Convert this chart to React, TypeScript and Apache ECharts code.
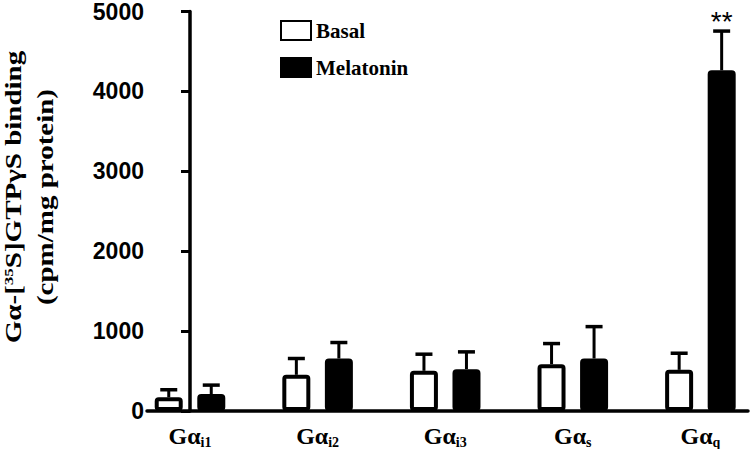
import React, { useEffect, useRef } from "react";
import * as echarts from "echarts";

const categories = ["i1", "i2", "i3", "s", "q"];
const basalMean = [171, 453, 503, 586, 515];
const basalSem = [95, 204, 208, 258, 208];
const melatoninMean = [212, 657, 524, 657, 4264];
const melatoninSem = [112, 200, 216, 399, 491];
const melatoninMarks = ["", "", "", "", "**"];
const yTicks = [0, 1000, 2000, 3000, 4000, 5000];
const yTitle = ["Gα-[{sup|35}S]GTPγS binding", "(cpm/mg protein)"];

const SERIF = "'Liberation Serif', 'Times New Roman', serif";
const SANS = "'Liberation Sans', Arial, sans-serif";
const BAR_OFFSET = 21.25;

function errorSeries(name: string, means: number[], sems: number[], marks: string[], offset: number) {
  return {
    type: "custom",
    name,
    z: 1,
    silent: true,
    data: means.map((m, i) => [i, m, sems[i]]),
    renderItem: (params: any, api: any) => {
      const i = api.value(0);
      const m = api.value(1);
      const e = api.value(2);
      const base = api.coord([i, m]);
      const top = api.coord([i, m + e]);
      const x = base[0] + offset;
      const children: any[] = [
        { type: "line", shape: { x1: x, y1: base[1], x2: x, y2: top[1] }, style: { stroke: "#000", lineWidth: 3 } },
        { type: "line", shape: { x1: x - 8.5, y1: top[1], x2: x + 8.5, y2: top[1] }, style: { stroke: "#000", lineWidth: 3.5 } },
      ];
      const mark = marks[params.dataIndex];
      if (mark) {
        children.push({
          type: "text",
          style: { text: mark, x, y: top[1] + 4, align: "center", verticalAlign: "bottom", fill: "#000", font: `28px ${SANS}` },
        });
      }
      return { type: "group", children };
    },
  };
}

export default function App() {
  const ref = useRef<HTMLDivElement>(null);
  useEffect(() => {
    const chart = echarts.init(ref.current!, null, { renderer: "svg" });
    const titleRich = {
      sup: { fontFamily: SERIF, fontWeight: "bold", fontSize: 17, verticalAlign: "top", padding: [0, 0, 15, 0], fill: "#000" },
    };
    chart.setOption({
      animation: false,
      backgroundColor: "#fff",
      grid: { left: 147, right: 2, top: 11, bottom: 37 },
      graphic: yTitle.map((t, k) => ({
        type: "text",
        x: k === 0 ? 14 : 46,
        y: 197,
        rotation: Math.PI / 2,
        scaleX: 1,
        scaleY: 0.78,
        style: {
          text: t,
          fontFamily: SERIF,
          fontWeight: "bold",
          fontSize: 29,
          fill: "#000",
          align: "center",
          verticalAlign: "middle",
          rich: titleRich,
        },
      })),
      legend: {
        data: ["Basal", "Melatonin"],
        orient: "vertical",
        left: 275,
        top: 15,
        icon: "rect",
        itemWidth: 30,
        itemHeight: 19,
        itemGap: 16,
        textStyle: { fontFamily: SERIF, fontWeight: "bold", fontSize: 21, color: "#000" },
      },
      xAxis: {
        type: "value",
        min: -0.337,
        max: 4.373,
        splitLine: { show: false },
        axisLine: { show: true, onZero: false, lineStyle: { color: "#000", width: 3.5 } },
        axisTick: { show: false },
        axisLabel: {
          customValues: [0, 1, 2, 3, 4],
          margin: 11,
          formatter: (v: number) => `{g|Gα}{s|${categories[Math.round(v)]}}`,
          rich: {
            g: { fontFamily: SERIF, fontWeight: "bold", fontSize: 24, color: "#000" },
            s: { fontFamily: SERIF, fontWeight: "bold", fontSize: 14, color: "#000", verticalAlign: "bottom", padding: [13, 0, 0, 0] },
          },
        },
      },
      yAxis: {
        type: "value",
        min: yTicks[0],
        max: yTicks[yTicks.length - 1],
        interval: 1000,
        splitLine: { show: false },
        axisLine: { show: true, lineStyle: { color: "#000", width: 3.5 } },
        axisTick: { show: true, length: 9, lineStyle: { color: "#000", width: 3 } },
        axisLabel: {
          fontFamily: SANS,
          fontWeight: "bold",
          fontSize: 23,
          color: "#000",
          margin: 3,
          formatter: (v: number) => String(v),
        },
      },
      series: [
        {
          type: "bar",
          name: "Basal",
          z: 2,
          barWidth: 28,
          barGap: "52%",
          data: basalMean.map((v, i) => [i, v]),
          itemStyle: { color: "#fff", borderColor: "#000", borderWidth: 4, borderRadius: 2 },
        },
        {
          type: "bar",
          name: "Melatonin",
          z: 2,
          barWidth: 28,
          barGap: "52%",
          data: melatoninMean.map((v, i) => [i, v]),
          itemStyle: { color: "#000", borderColor: "#000", borderWidth: 4, borderRadius: 2 },
        },
        errorSeries("Basal SEM", basalMean, basalSem, ["", "", "", "", ""], -BAR_OFFSET),
        errorSeries("Melatonin SEM", melatoninMean, melatoninSem, melatoninMarks, BAR_OFFSET),
      ],
    });
    return () => chart.dispose();
  }, []);
  return <div ref={ref} style={{ width: 750, height: 449, position: "absolute", left: 0, top: 0 }} />;
}
